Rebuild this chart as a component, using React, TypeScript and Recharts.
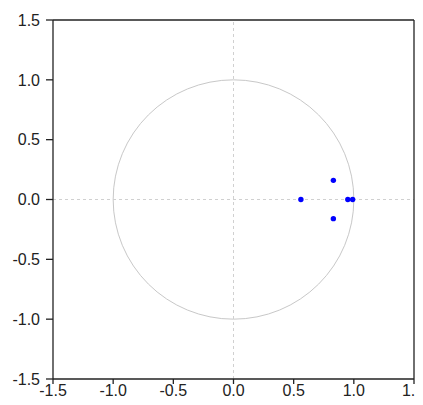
import {
  ScatterChart,
  Scatter,
  XAxis,
  YAxis,
  ReferenceLine,
  ReferenceArea,
} from "recharts";

// inverse roots of the AR characteristic polynomial
const rootReal = [0.56, 0.83, 0.83, 0.95, 0.99];
const rootImag = [0.0, 0.16, -0.16, 0.0, 0.0];
const axisTicks = [-1.5, -1.0, -0.5, 0.0, 0.5, 1.0, 1.5];

const points = rootReal.map((re, i) => ({ re, im: rootImag[i] }));

const font = "'Liberation Sans', Arial, sans-serif";
const tickStyle = { fill: "#222", fontSize: 16, fontFamily: font };
const frame = { stroke: "#222", strokeWidth: 1.3 };

// unit circle inscribed in the [-1,1] x [-1,1] area given by the scales
function UnitCircle(props: any) {
  const { x, y, width, height } = props;
  return (
    <ellipse
      cx={x + width / 2}
      cy={y + height / 2}
      rx={Math.abs(width) / 2}
      ry={Math.abs(height) / 2}
      fill="none"
      stroke="#c8c8c8"
      strokeWidth={1}
    />
  );
}

export default function App() {
  return (
    <div style={{ margin: -8, width: 423, height: 405, overflow: "hidden" }}>
      <ScatterChart
        width={423}
        height={405}
        margin={{ top: 20, right: 9, left: 13, bottom: 6 }}
        style={{ background: "#fff" }}
      >
        <XAxis
          type="number"
          dataKey="re"
          domain={[-1.5, 1.5]}
          ticks={axisTicks}
          tickFormatter={(v: number) => v.toFixed(1)}
          tick={tickStyle}
          axisLine={frame}
          tickLine={frame}
          tickSize={5}
          tickMargin={1}
          height={20}
          allowDataOverflow
        />
        <YAxis
          type="number"
          dataKey="im"
          domain={[-1.5, 1.5]}
          ticks={axisTicks}
          tickFormatter={(v: number) => v.toFixed(1)}
          tick={tickStyle}
          axisLine={frame}
          tickLine={frame}
          tickSize={7}
          tickMargin={6}
          width={40}
          allowDataOverflow
        />
        <ReferenceArea
          x1={-1}
          x2={1}
          y1={-1}
          y2={1}
          shape={UnitCircle}
          ifOverflow="visible"
        />
        <ReferenceLine x={0} stroke="#d0d0d0" strokeDasharray="3 3" />
        <ReferenceLine y={0} stroke="#d0d0d0" strokeDasharray="3 3" />
        <ReferenceLine y={1.5} {...frame} />
        <ReferenceLine x={1.5} {...frame} />
        <Scatter
          data={points}
          fill="#0000ff"
          isAnimationActive={false}
          shape={(p: any) => <circle cx={p.cx} cy={p.cy} r={2.7} fill="#0000ff" />}
        />
      </ScatterChart>
    </div>
  );
}
